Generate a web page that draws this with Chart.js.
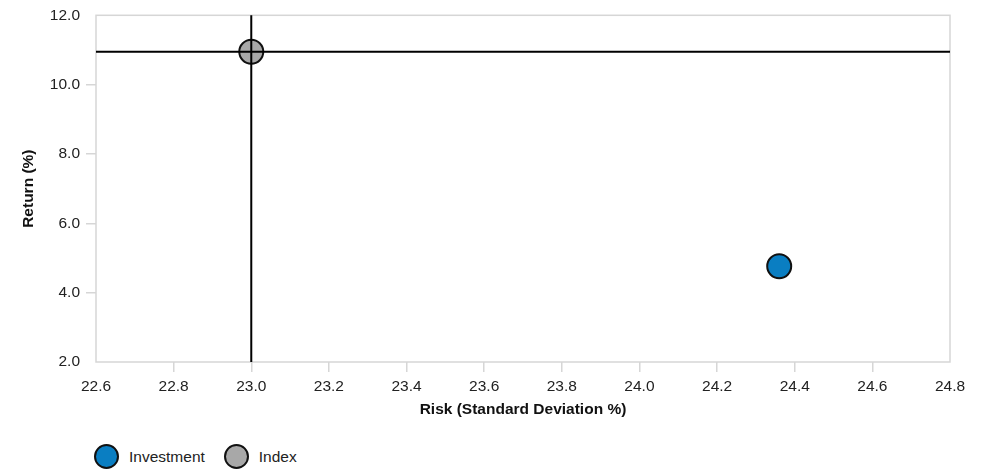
<!DOCTYPE html>
<html>
<head>
<meta charset="utf-8">
<script src="https://cdn.jsdelivr.net/npm/chart.js@4"></script>
<style>
  html, body { margin: 0; padding: 0; background: #fff; }
  body { width: 987px; height: 471px; position: relative; overflow: hidden; font-family: "Liberation Sans", Arial, sans-serif; }
  #wrap { position: absolute; left: 0; top: 0; width: 987px; height: 420px; }
  #legend { position: absolute; left: 94px; top: 444px; display: flex; align-items: center; font-size: 15.5px; color: #222; }
  .item { display: flex; align-items: center; margin-right: 19px; }
  .dot { width: 21px; height: 21px; border: 2px solid #111; border-radius: 50%; margin-right: 10px; }
</style>
</head>
<body>
<div id="wrap"><canvas id="riskChart"></canvas></div>
<div id="legend"></div>
<script>
// chart values
const seriesNames = ['Investment', 'Index'];
const riskValues = [24.36, 23.0];     // Risk (Standard Deviation %)
const returnValues = [4.76, 10.95];   // Return (%)
const seriesColors = ['#0a7ec2', '#a8a8a8'];
const xTickValues = [22.6, 22.8, 23.0, 23.2, 23.4, 23.6, 23.8, 24.0, 24.2, 24.4, 24.6, 24.8];
const yTickValues = [2.0, 4.0, 6.0, 8.0, 10.0, 12.0];

const FONT = '"Liberation Sans", Arial, sans-serif';
const AXIS_GREY = '#d6d6d6';

const datasets = seriesNames.map((name, i) => ({
  label: name,
  data: [{ x: riskValues[i], y: returnValues[i] }],
  backgroundColor: seriesColors[i],
  borderColor: '#111',
  borderWidth: 2,
  pointRadius: 12,
  pointHoverRadius: 12
}));

// frame round the plot + crosshair through the index point
const framePlugin = {
  id: 'frame',
  beforeDatasetsDraw(chart) {
    const { ctx, chartArea: a } = chart;
    ctx.save();
    ctx.strokeStyle = AXIS_GREY;
    ctx.lineWidth = 1.5;
    ctx.strokeRect(a.left, a.top, a.right - a.left, a.bottom - a.top);
    ctx.restore();
  },
  afterDatasetsDraw(chart) {
    const { ctx, chartArea: a, scales } = chart;
    const idx = seriesNames.indexOf('Index');
    const px = scales.x.getPixelForValue(riskValues[idx]);
    const py = scales.y.getPixelForValue(returnValues[idx]);
    ctx.save();
    ctx.strokeStyle = '#000';
    ctx.lineWidth = 2;
    ctx.beginPath();
    ctx.moveTo(px, a.top);
    ctx.lineTo(px, a.bottom);
    ctx.moveTo(a.left, py);
    ctx.lineTo(a.right, py);
    ctx.stroke();
    ctx.restore();
  }
};

const tickColor = (c) => (c.index === 0 || c.index === c.scale.ticks.length - 1) ? 'rgba(0,0,0,0)' : AXIS_GREY;

new Chart(document.getElementById('riskChart'), {
  type: 'scatter',
  data: { datasets },
  plugins: [framePlugin],
  options: {
    responsive: true,
    maintainAspectRatio: false,
    animation: false,
    layout: { padding: { left: 0, right: 37, top: 14, bottom: 0 } },
    plugins: { legend: { display: false }, tooltip: { enabled: false } },
    scales: {
      x: {
        min: xTickValues[0],
        max: xTickValues[xTickValues.length - 1],
        afterBuildTicks: (s) => { s.ticks = xTickValues.map(v => ({ value: v })); },
        afterFit: (s) => { s.height = 58; },
        border: { display: false },
        grid: { drawOnChartArea: false, drawTicks: true, tickLength: 10, lineWidth: 1.5, color: tickColor },
        ticks: { padding: 5, color: '#222', font: { family: FONT, size: 15.5 }, maxRotation: 0, callback: v => v.toFixed(1) },
        title: { display: true, text: 'Risk (Standard Deviation %)', color: '#111', padding: { top: 0, bottom: 1 }, font: { family: FONT, size: 15.5, weight: 'bold' } }
      },
      y: {
        min: yTickValues[0],
        max: yTickValues[yTickValues.length - 1],
        afterBuildTicks: (s) => { s.ticks = yTickValues.map(v => ({ value: v })); },
        afterFit: (s) => { s.width = 96; },
        border: { display: false },
        grid: { drawOnChartArea: false, drawTicks: true, tickLength: 10, lineWidth: 1.5, color: tickColor },
        ticks: { padding: 6, color: '#222', font: { family: FONT, size: 15.5 }, callback: v => v.toFixed(1) },
        title: { display: true, text: 'Return (%)', color: '#111', padding: { top: 19, bottom: 0 }, font: { family: FONT, size: 15.5, weight: 'bold' } }
      }
    }
  }
});

// legend below the chart
const legend = document.getElementById('legend');
seriesNames.forEach((name, i) => {
  const item = document.createElement('div');
  item.className = 'item';
  const dot = document.createElement('span');
  dot.className = 'dot';
  dot.style.background = seriesColors[i];
  const label = document.createElement('span');
  label.textContent = name;
  item.appendChild(dot);
  item.appendChild(label);
  legend.appendChild(item);
});
</script>
</body>
</html>
